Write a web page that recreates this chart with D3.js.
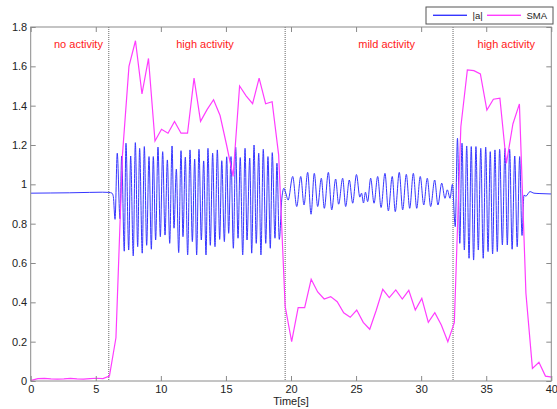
<!DOCTYPE html>
<html>
<head>
<meta charset="utf-8">
<script src="https://cdn.jsdelivr.net/npm/d3@7"></script>
<style>
body { margin: 0; background: #fff; }
svg { display: block; font-family: "Liberation Sans", Arial, sans-serif; }
</style>
</head>
<body>
<div class="main"></div>
<script>
// axis ticks
var xTicks = [0, 5, 10, 15, 20, 25, 30, 35, 40];
var yTicks = [0, 0.2, 0.4, 0.6, 0.8, 1, 1.2, 1.4, 1.6, 1.8];

// phase boundaries (s) and labels
var phaseBounds = [6.0, 19.55, 32.45];
var phaseNames = ["no activity", "high activity", "mild activity", "high activity"];
var phaseLabelAt = [3.67, 13.39, 27.35, 36.54];

// SMA, one value every 0.5 s
var smaTime = [0.05, 0.55, 1.05, 1.55, 2.05, 2.55, 3.05, 3.55, 4.05, 4.55, 5.05, 5.55, 6.05, 6.55, 7.05, 7.55,
  8.05, 8.55, 9.05, 9.55, 10.05, 10.55, 11.05, 11.55, 12.05, 12.55, 13.05, 13.55, 14.05, 14.55, 15.05, 15.55,
  16.05, 16.55, 17.05, 17.55, 18.05, 18.55, 19.05, 19.55, 20.05, 20.55, 21.05, 21.55, 22.05, 22.55, 23.05, 23.55,
  24.05, 24.55, 25.05, 25.55, 26.05, 26.55, 27.05, 27.55, 28.05, 28.55, 29.05, 29.55, 30.05, 30.55, 31.05, 31.55,
  32.05, 32.55, 33.05, 33.55, 34.05, 34.55, 35.05, 35.55, 36.05, 36.55, 37.05, 37.55, 38.05, 38.55, 39.05, 39.55, 40.05];
var smaValue = [0.003, 0.012, 0.013, 0.011, 0.01, 0.011, 0.013, 0.011, 0.01, 0.012, 0.014, 0.012, 0.025, 0.22, 1.15, 1.6,
  1.73, 1.46, 1.64, 1.22, 1.28, 1.26, 1.32, 1.26, 1.26, 1.54, 1.32, 1.38, 1.43, 1.35, 1.2, 1.04,
  1.5, 1.45, 1.41, 1.54, 1.41, 1.42, 1.15, 0.38, 0.2, 0.373, 0.373, 0.517, 0.453, 0.417, 0.429, 0.403,
  0.347, 0.324, 0.361, 0.298, 0.263, 0.36, 0.466, 0.424, 0.463, 0.417, 0.461, 0.361, 0.42, 0.298, 0.347, 0.285,
  0.2, 0.297, 1.293, 1.582, 1.578, 1.561, 1.378, 1.433, 1.438, 1.107, 1.307, 1.409, 0.446, 0.064, 0.095, 0.025, 0.02];

// |a|, read as the turning points of the signal
var accTime = [0, 1.5, 3, 4.5, 5.5, 6.0, 6.25, 6.35,
  6.48, 6.65, 6.86, 6.99, 7.19, 7.32, 7.53, 7.68, 7.88, 8.04, 8.22, 8.37, 8.57, 8.73, 8.91, 9.09, 9.27, 9.42, 9.6, 9.78,
  9.96, 10.14, 10.32, 10.5, 10.68, 10.86, 11.01, 11.19, 11.37, 11.55, 11.7, 11.88, 12.06, 12.24, 12.42, 12.6, 12.75, 12.93,
  13.11, 13.29, 13.47, 13.62, 13.8, 13.98, 14.16, 14.34, 14.52, 14.68, 14.88, 15.06, 15.21, 15.39, 15.57, 15.75, 15.93,
  16.1, 16.29, 16.47, 16.62, 16.83, 16.98, 17.16, 17.33, 17.52, 17.69, 17.87, 18.06, 18.23, 18.41, 18.56, 18.77, 18.92, 19.1,
  19.3, 19.45, 19.6, 19.78,
  20.13, 20.44, 20.75, 21.0, 21.28, 21.54, 21.79, 22.05, 22.33, 22.56, 22.87, 23.13, 23.43, 23.66, 23.97, 24.2, 24.48,
  24.74, 25.03, 25.29, 25.42, 25.57, 25.72, 25.89, 26.12, 26.38, 26.66, 26.92, 27.22, 27.48, 27.78, 28.01, 28.32, 28.58,
  28.86, 29.12, 29.4, 29.66, 29.93, 30.2, 30.47, 30.73, 31.04, 31.29, 31.58, 31.83, 32.01, 32.22, 32.4,
  32.62, 32.79, 32.97, 33.14, 33.32, 33.5, 33.68, 33.85, 34.03, 34.21, 34.39, 34.58, 34.77, 34.96, 35.14, 35.31, 35.49,
  35.67, 35.85, 36.03, 36.24, 36.44, 36.62, 36.8, 36.99, 37.19, 37.38, 37.57, 37.75,
  37.9, 38.05, 38.36, 38.67, 39.13, 40];
var accValue = [0.955, 0.956, 0.957, 0.959, 0.96, 0.959, 0.955, 0.937,
  0.822, 1.158, 0.825, 1.144, 0.66, 1.209, 0.666, 1.144, 0.636, 1.212, 0.683, 1.183, 0.65, 1.192, 0.69, 1.141, 0.67, 1.141, 0.717, 1.189,
  0.734, 1.166, 0.742, 1.124, 0.70, 1.195, 0.777, 1.077, 0.653, 1.171, 0.734, 1.138, 0.641, 1.175, 0.709, 1.128, 0.641, 1.178,
  0.717, 1.119, 0.641, 1.183, 0.69, 1.158, 0.683, 1.175, 0.72, 1.12, 0.709, 1.14, 0.751, 1.141, 0.675, 1.189, 0.726,
  1.136, 0.641, 1.183, 0.717, 1.133, 0.65, 1.2, 0.70, 1.158, 0.641, 1.178, 0.70, 1.141, 0.675, 1.161, 0.726, 1.107, 0.72,
  0.93, 0.98, 0.955, 0.92,
  1.04, 0.887, 1.04, 0.895, 1.061, 0.848, 1.056, 0.887, 1.031, 0.878, 1.061, 0.87, 1.027, 0.899, 1.031, 0.887, 1.022,
  0.904, 1.05, 0.935, 0.955, 0.905, 0.96, 0.912, 1.031, 0.904, 1.04, 0.882, 1.056, 0.865, 1.04, 0.861, 1.061, 0.87,
  1.051, 0.878, 1.056, 0.878, 1.04, 0.895, 1.031, 0.887, 1.022, 0.895, 1.006, 0.929, 0.972, 0.929, 1.0,
  0.785, 1.234, 0.70, 1.209, 0.666, 1.195, 0.624, 1.192, 0.615, 1.192, 0.666, 1.183, 0.624, 1.189, 0.658, 1.166, 0.646,
  1.175, 0.658, 1.178, 0.692, 1.183, 0.692, 1.178, 0.67, 1.144, 0.683, 1.141, 0.74,
  0.945, 0.94, 0.963, 0.955, 0.953, 0.951];

var legendNames = ["|a|", "SMA"];
var colors = ["#3636ff", "#ff3cff"];

var margin = {top: 27, right: 5.7, bottom: 28, left: 30.7},
width = 557 - margin.left - margin.right,
height = 409 - margin.top - margin.bottom;

var root = d3.select(".main")
.append("svg")
.attr("width", 557)
.attr("height", 409);

var svg = root.append("g")
.attr("transform", "translate(" + margin.left + "," + margin.top + ")");

var x = d3.scaleLinear().domain([0, 40]).range([0, width]);
var y = d3.scaleLinear().domain([0, 1.8]).range([height, 0]);

svg.append("clipPath").attr("id", "plot")
.append("rect").attr("width", width).attr("height", height);

// phase boundaries
svg.selectAll(".phase")
.data(phaseBounds)
.enter().append("line")
.attr("class", "phase")
.attr("x1", function(d) { return x(d); })
.attr("x2", function(d) { return x(d); })
.attr("y1", 0)
.attr("y2", height)
.style("stroke", "#666")
.style("stroke-width", 1)
.style("stroke-dasharray", "1,1");

var line = d3.line()
.x(function(d) { return x(d[0]); })
.y(function(d) { return y(d[1]); });

svg.append("path")
.attr("clip-path", "url(#plot)")
.attr("d", line.curve(d3.curveMonotoneX)(d3.zip(accTime, accValue)))
.style("fill", "none")
.style("stroke", colors[0])
.style("stroke-width", 1);

svg.append("path")
.attr("clip-path", "url(#plot)")
.attr("d", line.curve(d3.curveLinear)(d3.zip(smaTime, smaValue)))
.style("fill", "none")
.style("stroke", colors[1])
.style("stroke-width", 1.2);

// axes, ticks pointing inward on all four sides
var fmt = function(d) { return String(d); };
var xAxis = svg.append("g").attr("transform", "translate(0," + height + ")")
.call(d3.axisBottom(x).tickValues(xTicks).tickSizeInner(-5).tickSizeOuter(0).tickPadding(4).tickFormat(fmt));
var yAxis = svg.append("g")
.call(d3.axisLeft(y).tickValues(yTicks).tickSizeInner(-5).tickSizeOuter(0).tickPadding(3.5).tickFormat(fmt));
var topAxis = svg.append("g")
.call(d3.axisTop(x).tickValues(xTicks).tickSizeInner(-5).tickSizeOuter(0).tickFormat(""));
var rightAxis = svg.append("g").attr("transform", "translate(" + width + ",0)")
.call(d3.axisRight(y).tickValues(yTicks).tickSizeInner(-5).tickSizeOuter(0).tickFormat(""));

[xAxis, yAxis, topAxis, rightAxis].forEach(function(a) {
  a.select(".domain").remove();
  a.selectAll(".tick line").style("stroke", "#8a8a8a");
  a.selectAll("text").style("font-size", "11px").style("fill", "#222").style("font-family", "'Liberation Sans', Arial, sans-serif");
});

svg.append("rect")
.attr("width", width)
.attr("height", height)
.style("fill", "none")
.style("stroke", "#8a8a8a")
.style("stroke-width", 1);

// phase labels
svg.selectAll(".plabel")
.data(phaseNames)
.enter().append("text")
.attr("class", "plabel")
.attr("x", function(d, i) { return x(phaseLabelAt[i]); })
.attr("y", 20.5)
.style("text-anchor", "middle")
.style("font-size", "11px")
.style("fill", "#ff2020")
.text(function(d) { return d; });

// x label
svg.append("text")
.attr("x", width / 2)
.attr("y", height + 23.5)
.style("text-anchor", "middle")
.style("font-size", "11px")
.style("fill", "#222")
.text("Time[s]");

// legend
var legend = root.append("g").attr("transform", "translate(426,7)");
legend.append("rect")
.attr("width", 127)
.attr("height", 17)
.style("fill", "#fff")
.style("stroke", "#555")
.style("stroke-width", 1);
var item = legend.selectAll(".item")
.data(legendNames)
.enter().append("g")
.attr("class", "item")
.attr("transform", function(d, i) { return "translate(" + (7 + i * 54) + ",0)"; });
item.append("rect")
.attr("x", 0)
.attr("y", 7.6)
.attr("width", 34)
.attr("height", 1.4)
.style("fill", function(d, i) { return colors[i]; });
item.append("text")
.attr("x", 39.5)
.attr("y", 12)
.style("font-size", "9.5px")
.style("fill", "#222")
.text(function(d) { return d; });
</script>
</body>
</html>
